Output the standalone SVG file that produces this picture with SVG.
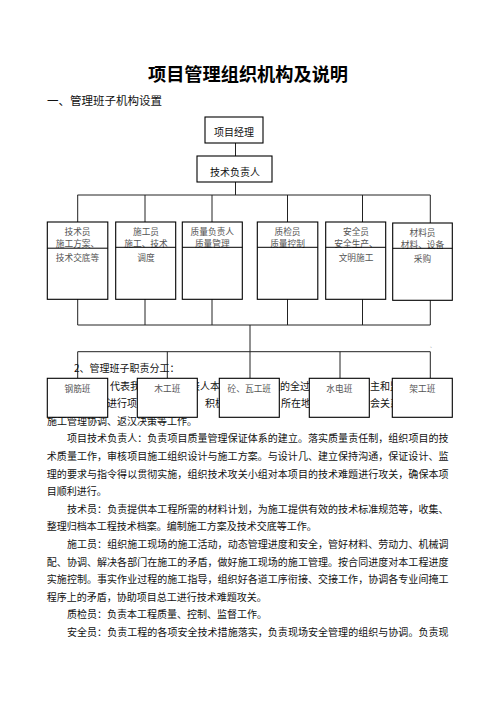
<svg xmlns="http://www.w3.org/2000/svg" width="496" height="702" viewBox="0 0 496 702">
<style>
text{font-family:"Noto Sans CJK SC","Noto Sans",sans-serif;}
.title{font-size:18.2px;font-weight:bold;text-anchor:middle;fill:#000}
.h{font-size:11.5px;fill:#111}
.b{font-size:10px;fill:#111}
.box{fill:#fff;stroke:#000;stroke-width:1.1}
.ln{stroke:#222;stroke-width:1;fill:none}
.k{font-size:10px;text-anchor:middle;fill:#111}
.s{font-size:8.7px;text-anchor:middle;fill:#555}
</style>
<rect width="496" height="702" fill="#fff"/>
<text class="title" x="248" y="80.5">项目管理组织机构及说明</text>
<text class="h" x="47" y="104.5">一、管理班子机构设置</text>

<g id="connectors" class="ln">
<path d="M235.5 143V156M235.5 182V195M77.5 195H430.3M77.7 195V222M145 195V222M212 195V222M287.5 195V222M362.5 195V222M430.3 195V223"/>
<path d="M77.7 299V325M145 299V325M212 299V325M287.5 299V325M362.5 299V325M430.3 300V325M77.7 325H430.3M250 325V351.7"/>
<path d="M77.7 351.7H430.3M77.7 351.7V378M167.3 351.7V378M250 351.7V378M340 351.7V378M430.3 351.7V378"/>
</g>

<g id="body-text" class="b">
<text x="74" y="371.9">2、管理班子职责分工：</text>
<text y="389.5"><tspan x="110">代表我</tspan><tspan x="190">表人本</tspan><tspan x="270">理的全过</tspan><tspan x="360">业主和监</tspan></text>
<text y="407.1"><tspan x="107">进行项</tspan><tspan x="205">积极</tspan><tspan x="281">所在地</tspan><tspan x="370">会关系</tspan></text>
<text x="47" y="424.7">施工管理协调、返汉决策等工作。</text>
<text x="67" y="442.3" textLength="381.5" lengthAdjust="spacing">项目技术负责人：负责项目质量管理保证体系的建立。落实质量责任制，组织项目的技</text>
<text x="46.8" y="459.9" textLength="401.7" lengthAdjust="spacing">术质量工作，审核项目施工组织设计与施工方案。与设计几、建立保持沟通，保证设计、监</text>
<text x="46.8" y="477.5" textLength="401.7" lengthAdjust="spacing">理的要求与指令得以贯彻实施，组织技术攻关小组对本项目的技术难题进行攻关，确保本项</text>
<text x="46.8" y="495.1">目顺利进行。</text>
<text x="67" y="512.7" textLength="381.5" lengthAdjust="spacing">技术员：负责提供本工程所需的材料计划，为施工提供有效的技术标准规范等，收集、</text>
<text x="46.8" y="530.3">整理归档本工程技术档案。编制施工方案及技术交底等工作。</text>
<text x="67" y="547.9" textLength="381.5" lengthAdjust="spacing">施工员：组织施工现场的施工活动，动态管理进度和安全，管好材料、劳动力、机械调</text>
<text x="46.8" y="565.5" textLength="401.7" lengthAdjust="spacing">配、协调、解决各部门在施工的矛盾，做好施工现场的施工管理。按合同进度对本工程进度</text>
<text x="46.8" y="583.1" textLength="401.7" lengthAdjust="spacing">实施控制。事实作业过程的施工指导，组织好各道工序衔接、交接工作，协调各专业间掩工</text>
<text x="46.8" y="600.7">程序上的矛盾，协助项目总工进行技术难题攻关。</text>
<text x="67" y="618.3">质检员：负责本工程质量、控制、监督工作。</text>
<text x="67" y="635.9" textLength="381.5" lengthAdjust="spacing">安全员：负责工程的各项安全技术措施落实，负责现场安全管理的组织与协调。负责现</text>
<text x="430" y="347" style="font-size:5px;fill:#aaa">、</text>
</g>

<g id="n-pm"><rect class="box" x="205" y="117" width="58" height="26"/><text class="k" x="234" y="136.3">项目经理</text></g>
<g id="n-tech-lead"><rect class="box" x="197" y="156" width="75" height="26"/><text class="k" x="235" y="176.3">技术负责人</text></g>

<g id="n-jsy"><rect class="box" x="47.3" y="222" width="60.5" height="77.3"/><text class="s" x="77.5" y="235">技术员</text><text class="s" x="77.5" y="247.2">施工方案、</text><text class="s" x="77.5" y="260.6">技术交底等</text><path class="ln" d="M47.3 248.2H107.8" style="stroke:#000"/></g>
<g id="n-sgy"><rect class="box" x="115.7" y="222" width="60" height="77.3"/><text class="s" x="146" y="235">施工员</text><text class="s" x="146" y="247">施工、技术</text><text class="s" x="146" y="260.6">调度</text><path class="ln" d="M115.7 247.3H175.7" style="stroke:#000"/></g>
<g id="n-zlfz"><rect class="box" x="182.3" y="222" width="60" height="77.3"/><text class="s" x="212.3" y="235">质量负责人</text><text class="s" x="212.3" y="247">质量管理</text><path class="ln" d="M182.3 247.3H242.3" style="stroke:#000"/></g>
<g id="n-zjy"><rect class="box" x="257.3" y="222" width="60.5" height="77.3"/><text class="s" x="287.5" y="235">质检员</text><text class="s" x="287.5" y="247">质量控制</text><path class="ln" d="M257.3 247.3H317.8" style="stroke:#000"/></g>
<g id="n-aqy"><rect class="box" x="325.7" y="222" width="60" height="77.3"/><text class="s" x="356" y="235">安全员</text><text class="s" x="356" y="247">安全生产、</text><text class="s" x="356" y="260.6">文明施工</text><path class="ln" d="M325.7 247.3H385.7" style="stroke:#000"/></g>
<g id="n-cly"><rect class="box" x="392.7" y="223" width="59.6" height="77.3"/><text class="s" x="422.5" y="235.8">材料员</text><text class="s" x="422.5" y="248">材料、设备</text><text class="s" x="422.5" y="261.6">采购</text><path class="ln" d="M392.7 248.3H452.3" style="stroke:#000"/></g>

<g id="n-gjb"><rect class="box" x="47.3" y="378.3" width="60.4" height="39"/><text class="s" x="77.5" y="391.6">钢筋班</text></g>
<g id="n-mgb"><rect class="box" x="137.3" y="378.3" width="60" height="39"/><text class="s" x="167.3" y="391.6">木工班</text></g>
<g id="n-twb"><rect class="box" x="219.3" y="378.3" width="60" height="39"/><text class="s" x="249.3" y="391.6">砼、瓦工班</text></g>
<g id="n-sdb"><rect class="box" x="309.3" y="378.3" width="60" height="39"/><text class="s" x="339.3" y="391.6">水电班</text></g>
<g id="n-jgb"><rect class="box" x="392.3" y="378.3" width="60" height="39"/><text class="s" x="422.3" y="391.6">架工班</text></g>
</svg>
